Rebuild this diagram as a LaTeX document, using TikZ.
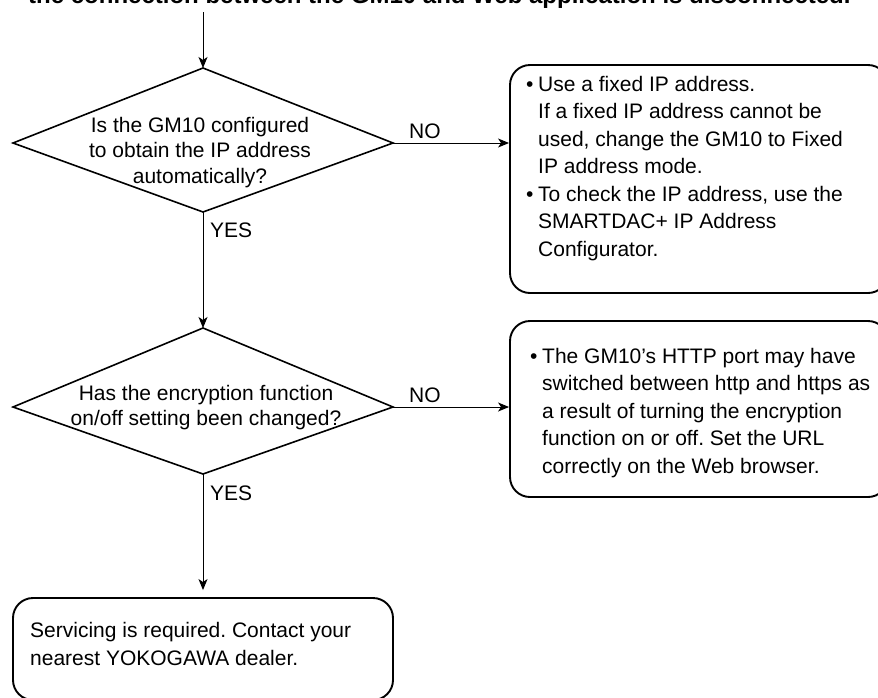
\documentclass[tikz,border=0pt]{standalone}
\usepackage{fontspec}
\setmainfont{Liberation Sans}
\usetikzlibrary{arrows.meta}
\frenchspacing
\begin{document}
\frenchspacing
\begin{tikzpicture}[x=1pt,y=-1pt,
  dia/.style={draw, line width=1.6pt, line join=miter},
  rbox/.style={draw, line width=1.9pt, rounded corners=20pt, inner sep=0pt},
  conn/.style={line width=1pt, -{Stealth[length=11pt,width=9pt,inset=3pt]}},
  boxtext/.style={font=\fontsize{21}{27.5}\selectfont, inner sep=0pt, align=left, anchor=north west},
  diatext/.style={font=\fontsize{21}{25.5}\selectfont, inner sep=0pt, align=center, anchor=north},
  lbl/.style={font=\fontsize{21}{25}\selectfont, inner sep=0pt, anchor=base west}
]
\useasboundingbox (0,0) rectangle (878,697);
\clip (0,0) rectangle (878,697);

% heading (cut off at top)
\node[inner sep=0pt, anchor=base west, font=\fontsize{24}{28}\selectfont\bfseries] (head) at (28,3)
  {the connection between the GM10 and Web application is disconnected.};

% diamond 1
\coordinate (d1n) at (203,68);
\coordinate (d1e) at (393,143);
\coordinate (d1s) at (203,212);
\coordinate (d1w) at (13,143);
\draw[dia] (d1n) -- (d1e) -- (d1s) -- (d1w) -- cycle;
\node[diatext] (d1t) at (200,116)
  {\rule{0pt}{16pt}Is the GM10 configured\\to obtain the IP address\\automatically?};

% diamond 2
\coordinate (d2n) at (203,328);
\coordinate (d2e) at (393,407);
\coordinate (d2s) at (203,474);
\coordinate (d2w) at (13,407);
\draw[dia] (d2n) -- (d2e) -- (d2s) -- (d2w) -- cycle;
\node[diatext] (d2t) at (206,384)
  {\rule{0pt}{16pt}Has the encryption function\\on/off setting been changed?};

% boxes
\node[rbox, minimum width=378pt, minimum height=228pt] (b1) at (699,179) {};
\node[rbox, minimum width=378pt, minimum height=176pt] (b2) at (699,409) {};
\node[rbox, minimum width=380pt, minimum height=102pt] (b3) at (203,649) {};

\node[boxtext] (b1t) at (526,75)
  {\rule{0pt}{16pt}\makebox[12pt][l]{•}Use a fixed IP address.\\
   \hspace*{12pt}If a fixed IP address cannot be\\
   \hspace*{12pt}used, change the GM10 to Fixed\\
   \hspace*{12pt}IP address mode.\\
   \makebox[12pt][l]{•}To check the IP address, use the\\
   \hspace*{12pt}SMARTDAC+ IP Address\\
   \hspace*{12pt}Configurator.};

\node[boxtext] (b2t) at (530,347)
  {\rule{0pt}{16pt}\makebox[12pt][l]{•}The GM10’s HTTP port may have\\
   \hspace*{12pt}switched between http and https as\\
   \hspace*{12pt}a result of turning the encryption\\
   \hspace*{12pt}function on or off. Set the URL\\
   \hspace*{12pt}correctly on the Web browser.};

\node[boxtext, font=\fontsize{21}{28}\selectfont] (b3t) at (30,621)
  {\rule{0pt}{16pt}Servicing is required. Contact your\\nearest YOKOGAWA dealer.};

% labels
\node[lbl] (no1) at (409,138) {NO};
\node[lbl] (no2) at (409,402) {NO};
\node[lbl] (yes1) at (210,237) {YES};
\node[lbl] (yes2) at (210,500) {YES};

% connectors
\coordinate (start) at (203,12);
\draw[conn] (start) -- (d1n);
\draw[conn] (d1e) -- (d1e -| b1.west);
\draw[conn] (d1s) -- (d2n);
\draw[conn] (d2e) -- (d2e -| b2.west);
\draw[conn, shorten >=7pt] (d2s) -- (b3.north);
\end{tikzpicture}
\end{document}
